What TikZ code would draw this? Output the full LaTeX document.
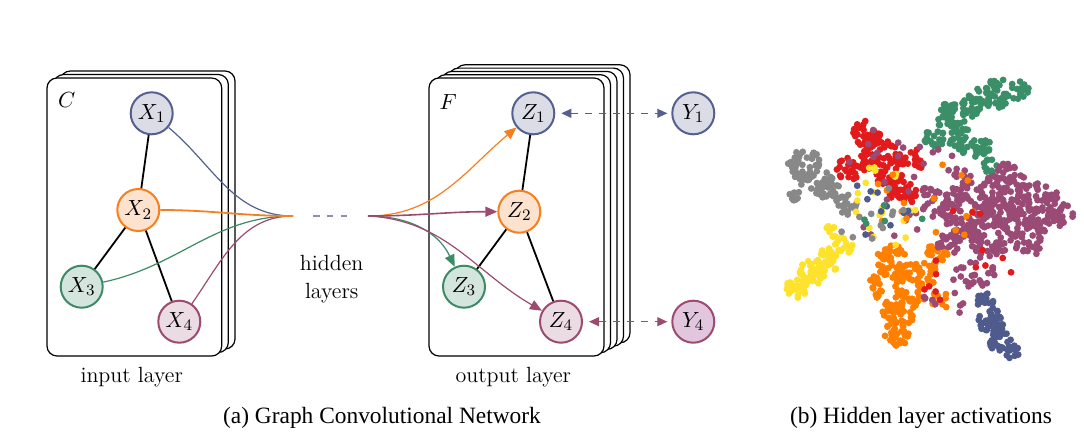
\documentclass[tikz,border=0pt]{standalone}
\usepackage{amsmath}
\usepackage{fontspec}
\newfontfamily\capfont{Liberation Serif}
\usetikzlibrary{arrows.meta}

\definecolor{cblue}{HTML}{56608E}
\definecolor{corange}{HTML}{F6801F}
\definecolor{cgreen}{HTML}{3D8B66}
\definecolor{cpurple}{HTML}{9D4A70}
\definecolor{sred}{HTML}{E31A1C}
\definecolor{sgreen}{HTML}{3A8E68}
\definecolor{sgray}{HTML}{888888}
\definecolor{spurple}{HTML}{9A4B75}
\definecolor{syellow}{HTML}{FFE22B}
\definecolor{sorange}{HTML}{FF7F00}
\definecolor{sblue}{HTML}{4F5B8C}

\tikzset{
  card/.style={draw=black, fill=white, rounded corners=5pt, line width=0.6pt},
  unit/.style={circle, line width=1pt, minimum size=21pt, inner sep=0pt},
  ublue/.style={unit, draw=cblue, fill=cblue!22},
  uorange/.style={unit, draw=corange, fill=corange!22},
  ugreen/.style={unit, draw=cgreen, fill=cgreen!22},
  upurple/.style={unit, draw=cpurple, fill=cpurple!20},
  link/.style={line width=0.9pt},
  feed/.style={line width=0.6pt},
  tip/.style={-{Triangle[length=6pt,width=5pt]}},
  target/.style={dashed, dash pattern=on 3.5pt off 3.5pt, line width=0.6pt,
    {Triangle[length=5pt,width=4.5pt]}-{Triangle[length=5pt,width=4.5pt]},
    shorten <=3pt, shorten >=2pt}
}

% cluster of dots: colour, x, y, radius, count
\newcommand{\tsneblob}[5]{
  \foreach \k in {1,...,#5}{
    \pgfmathsetmacro{\rr}{#4*sqrt(rnd)}
    \pgfmathsetmacro{\aa}{360*rnd}
    \pgfmathsetmacro{\px}{#2+\rr*cos(\aa)}
    \pgfmathsetmacro{\py}{#3+\rr*sin(\aa)}
    \fill[#1] (\px,\py) circle (1.7pt);
  }}

\begin{document}
\begin{tikzpicture}[x=0.5pt, y=-0.5pt, font=\fontsize{11}{14}\selectfont]
\useasboundingbox (0,0) rectangle (1084,440);

\draw[card] (60.3,71) rectangle (235,349);
\draw[card] (53.7,74.5) rectangle (228.3,352.5);
\draw[card] (47,78) rectangle (221.7,356);
\foreach \s in {4,3,2,1,0}
  \draw[card] (429+6.5*\s,78-3.3*\s) rectangle (604+6.5*\s,356-3.3*\s);

\node at (66.7,100) {$C$};
\node at (448.3,101.7) {$F$};

\node[ublue]   (x1) at (151.7,113.3) {$X_1$};
\node[uorange] (x2) at (138.3,210)   {$X_2$};
\node[ugreen]  (x3) at (81.7,286.7)  {$X_3$};
\node[upurple] (x4) at (179.3,321.7) {$X_4$};

\node[ublue]   (z1) at (533.3,113.3) {$Z_1$};
\node[uorange] (z2) at (519.3,211.7) {$Z_2$};
\node[ugreen]  (z3) at (464,286.7)   {$Z_3$};
\node[upurple] (z4) at (561,321.7)   {$Z_4$};

\node[ublue]   (y1) at (693.3,113.3) {$Y_1$};
\node[unit, draw=cpurple, fill=cpurple!35!violet!25] (y4) at (693.3,321.7) {$Y_4$};

\draw[link] (x1) -- (x2);
\draw[link] (x2) -- (x3);
\draw[link] (x2) -- (x4);
\draw[link] (z1) -- (z2);
\draw[link] (z2) -- (z3);
\draw[link] (z2) -- (z4);

\coordinate (hl) at (293,216);
\coordinate (hr) at (368,216);
\coordinate (dl) at (313,216);
\coordinate (dr) at (349,216);
\draw[feed, cblue] (x1) to[out=-40, in=180] (hl);
\draw[feed, cgreen] (x3) to[out=12, in=180] (hl);
\draw[feed, cpurple] (x4) to[out=55, in=180] (hl);
\draw[feed, corange, line width=0.9pt] (x2) to[out=0, in=180] (hl);
\draw[cblue!70, line width=0.9pt, dash pattern=on 3.3pt off 3.6pt] (dl) -- (dr);

\draw[feed, tip, corange] (hr) to[out=0, in=-140] (z1);
\draw[feed, tip, cgreen] (hr) to[out=0, in=115] (z3);
\draw[feed, tip, cpurple] (hr) to[out=-3, in=150] (z4);
\draw[feed, tip, cpurple, line width=0.8pt] (hr) to[out=0, in=180] (z2);

\draw[target, cblue] (z1) -- (y1);
\draw[target, cpurple] (z4) -- (y4);

\node (hidden) at (331.7,279) [align=center] {hidden\\layers};
\node (inp) at (131.7,376.7) {input layer};
\node (outp) at (513.3,376.7) {output layer};

\node (capa) at (382,418) {\capfont\fontsize{11.7}{14}\selectfont (a) Graph Convolutional Network};
\node (capb) at (921,418) {\capfont\fontsize{11.7}{14}\selectfont (b) Hidden layer activations};

\pgfmathsetseed{11}
\tsneblob{sgreen}{1000}{92}{16}{35}
\tsneblob{sgreen}{975}{102}{15}{35}
\tsneblob{sgreen}{950}{117}{15}{35}
\tsneblob{sgreen}{935}{137}{11}{20}
\tsneblob{sgreen}{962}{140}{13}{28}
\tsneblob{sgreen}{985}{150}{12}{25}
\tsneblob{sgreen}{1020}{90}{9}{15}
\tsneblob{sgreen}{990}{166}{7}{8}
\tsneblob{sred}{866}{135}{15}{40}
\tsneblob{sred}{882}{162}{22}{75}
\tsneblob{sred}{903}{190}{15}{35}
\tsneblob{sred}{848}{172}{14}{25}
\tsneblob{sred}{914}{160}{11}{15}
\tsneblob{sgray}{805}{165}{17}{50}
\tsneblob{sgray}{825}{186}{14}{35}
\tsneblob{sgray}{846}{205}{11}{18}
\tsneblob{sgray}{797}{192}{9}{10}
\tsneblob{spurple}{965}{210}{25}{80}
\tsneblob{spurple}{1000}{200}{25}{80}
\tsneblob{spurple}{1035}{205}{25}{75}
\tsneblob{spurple}{1062}{215}{11}{20}
\tsneblob{spurple}{990}{235}{22}{65}
\tsneblob{spurple}{1030}{240}{18}{40}
\tsneblob{spurple}{950}{242}{15}{25}
\tsneblob{spurple}{930}{200}{14}{20}
\tsneblob{spurple}{975}{270}{18}{22}
\tsneblob{spurple}{1010}{175}{15}{25}
\tsneblob{spurple}{960}{180}{12}{15}
\tsneblob{syellow}{797}{287}{11}{28}
\tsneblob{syellow}{812}{273}{13}{35}
\tsneblob{syellow}{828}{260}{12}{30}
\tsneblob{syellow}{844}{245}{9}{16}
\tsneblob{syellow}{832}{232}{7}{8}
\tsneblob{sorange}{893}{262}{17}{45}
\tsneblob{sorange}{914}{282}{20}{60}
\tsneblob{sorange}{900}{308}{18}{50}
\tsneblob{sorange}{896}{335}{13}{28}
\tsneblob{sorange}{935}{258}{13}{22}
\tsneblob{sorange}{877}{287}{11}{16}
\tsneblob{sorange}{940}{300}{10}{12}
\tsneblob{sblue}{985}{301}{9}{14}
\tsneblob{sblue}{991}{320}{13}{35}
\tsneblob{sblue}{1000}{340}{12}{30}
\tsneblob{sblue}{1012}{352}{7}{12}
\tsneblob{spurple}{900}{190}{70}{30}
\tsneblob{spurple}{960}{280}{40}{15}
\tsneblob{syellow}{890}{205}{45}{20}
\tsneblob{sorange}{920}{205}{55}{18}
\tsneblob{sblue}{880}{210}{40}{10}
\tsneblob{sgray}{870}{215}{35}{12}
\tsneblob{sred}{960}{260}{55}{14}
\tsneblob{sgreen}{890}{220}{40}{5}
\end{tikzpicture}
\end{document}
